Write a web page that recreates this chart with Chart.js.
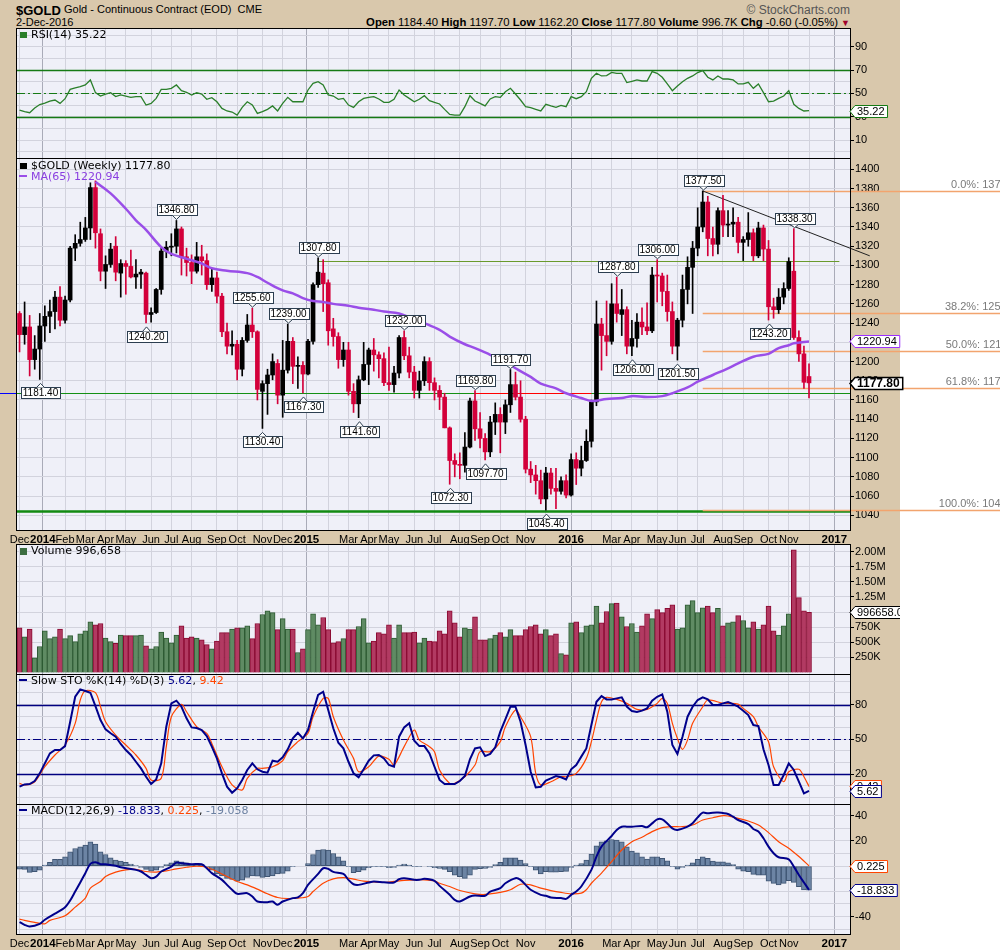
<!DOCTYPE html>
<html>
<head>
<meta charset="utf-8">
<title>$GOLD weekly</title>
<script src="https://cdn.jsdelivr.net/npm/chart.js@4.4.1/dist/chart.umd.min.js"></script>
<style>
  html, body { margin: 0; padding: 0; background: #fff; }
  body { width: 1000px; height: 950px; position: relative; overflow: hidden; font-family: "Liberation Sans", Arial, sans-serif; }
  #frame { position: absolute; left: 0; top: 0; width: 900px; height: 950px; background: #d9c8ac; }
  canvas { position: absolute; left: 0; }
  .txt { position: absolute; white-space: nowrap; color: #000; line-height: 1; }
  .lg { font-family: "DejaVu Sans", Verdana, sans-serif; font-size: 11px; }
  .ic { display: inline-block; width: 8px; height: 2px; vertical-align: middle; margin-right: 4px; position: relative; top: -1px; }
</style>
</head>
<body>
<div id="frame"></div>
<canvas id="rsiChart" width="900" height="130" style="top:28px"></canvas>
<canvas id="priceChart" width="1000" height="386" style="top:158px"></canvas>
<canvas id="volChart" width="900" height="130" style="top:544px"></canvas>
<canvas id="stoChart" width="900" height="130" style="top:674px"></canvas>
<canvas id="macdChart" width="900" height="146" style="top:804px"></canvas>

<div class="txt" style="left:16px;top:4px;font-size:13px;font-weight:bold">$GOLD</div>
<div class="txt" style="left:64px;top:4px;font-size:11px">Gold - Continuous Contract (EOD) &nbsp;CME</div>
<div class="txt" style="left:16px;top:17px;font-size:11px">2-Dec-2016</div>
<div class="txt" style="right:150px;top:4px;font-size:12px;color:#555">&copy; StockCharts.com</div>
<div class="txt" style="right:150px;top:17px;font-size:11.3px"><b>Open</b> 1184.40 <b>High</b> 1197.70 <b>Low</b> 1162.20 <b>Close</b> 1177.80 <b>Volume</b> 996.7K <b>Chg</b> -0.60 (-0.05%) <span style="color:#a0002a;font-size:9px">&#9660;</span></div>

<div class="txt lg" style="left:20px;top:29px"><span class="ic" style="background:#2a7f2a;height:6px;width:7px;top:0"></span>RSI(14) 35.22</div>
<div class="txt lg" style="left:20px;top:160px"><span class="ic" style="background:#000;height:6px;width:7px;top:0"></span>$GOLD (Weekly) 1177.80</div>
<div class="txt lg" style="left:19px;top:171px;color:#8a3ee0"><span class="ic" style="background:#9a4ee8"></span>MA(65) 1220.94</div>
<div class="txt lg" style="left:20px;top:545px"><span class="ic" style="background:#3d6e42;height:7px;width:7px;top:0"></span>Volume 996,658</div>
<div class="txt lg" style="left:19px;top:675px"><span class="ic" style="background:#00008b"></span>Slow STO %K(14) %D(3) <span style="color:#00008b">5.62</span>, <span style="color:#ff4500">9.42</span></div>
<div class="txt lg" style="left:19px;top:805px"><span class="ic" style="background:#00008b"></span>MACD(12,26,9) <span style="color:#00008b">-18.833</span>, <span style="color:#ff4500">0.225</span>, <span style="color:#6a7fa0">-19.058</span></div>

<script>
// weekly bars, Dec 6 2013 .. Dec 2 2016 (bar 1 .. 157)
const opens = [1250,1228,1236,1202,1213,1237,1247,1252,1267,1243,
  1264,1318,1323,1327,1339,1381,1333,1294,1301,1320,
  1292,1302,1299,1288,1291,1292,1249,1251,1275,1315,
  1319,1320,1338,1309,1303,1294,1309,1305,1280,1287,
  1268,1231,1216,1218,1192,1222,1238,1231,1169,1177,
  1186,1198,1165,1191,1221,1195,1196,1187,1221,1280,
  1292,1282,1234,1226,1202,1212,1169,1156,1181,1197,
  1212,1207,1203,1178,1176,1188,1225,1206,1189,1170,
  1180,1200,1178,1170,1163,1131,1097,1093,1092,1111,
  1159,1130,1120,1106,1137,1145,1137,1155,1176,1163,
  1140,1088,1082,1076,1057,1084,1068,1065,1076,1061,
  1098,1089,1097,1117,1158,1239,1227,1221,1260,1249,
  1254,1216,1224,1241,1236,1232,1290,1289,1273,1252,
  1216,1243,1275,1298,1318,1340,1366,1328,1322,1357,
  1342,1343,1345,1324,1327,1334,1310,1339,1317,1257,
  1254,1267,1276,1294,1225,1208,1184.4];
const highs = [1252,1262,1248,1227,1250,1258,1264,1273,1278,1268,
  1320,1332,1345,1350,1386,1388,1338,1310,1323,1330,
  1306,1305,1316,1306,1296,1293,1256,1276,1318,1325,
  1333,1346.8,1340,1318,1311,1324,1321,1312,1296,1293,
  1271,1240,1232,1222,1225,1249,1255.6,1232,1180,1192,
  1208,1202,1222,1239,1225,1205,1200,1223,1282,1307.8,
  1306,1285,1245,1230,1220,1220,1177,1185,1220,1214,
  1224,1210,1209,1215,1195,1227,1232,1215,1195,1190,
  1205,1204,1183,1175,1167,1132,1104,1105,1126,1162,
  1169.8,1147,1125,1143,1157,1152,1160,1191.7,1189,1180,
  1143,1096,1092,1087,1090,1089,1089,1080,1082,1104,
  1105,1112,1129,1160,1263,1245,1263,1281,1287.8,1275,
  1257,1243,1250,1256,1261,1298,1306,1292,1290,1262,
  1245,1290,1309,1325,1360,1377.5,1372,1340,1360,1373,
  1357,1360,1350,1330,1355,1338,1345,1342,1326,1266,
  1276,1282,1308,1338.3,1232,1216,1197.7];
const lows = [1210,1218,1185,1192,1181.4,1221,1230,1234,1237,1240,
  1262,1305,1320,1325,1327,1318,1284,1276,1298,1284,
  1267,1270,1287,1276,1276,1240.2,1241,1250,1270,1308,
  1310,1313,1290,1289,1281,1292,1290,1275,1273,1261,
  1226,1208,1207,1181,1185,1220,1225,1160,1130.4,1145,
  1181,1156,1142,1188,1177,1172,1167.3,1186,1218,1277,
  1252,1217,1216,1193,1195,1165,1147,1141.6,1180,1176,
  1190,1183,1175,1170,1168,1183,1202,1183,1162,1162,
  1175,1170,1160,1150,1131,1072.3,1080,1078,1085,1110,
  1118,1110,1097.7,1101,1124,1105,1125,1147,1160,1137,
  1084,1074,1062,1052,1045.4,1062,1047,1062,1058,1060,
  1072,1081,1096,1111,1154,1191,1206,1218,1241,1227,
  1208,1206,1215,1228,1228,1230,1262,1258,1242,1208,
  1201.5,1236,1260,1250,1310,1335,1310,1310,1312,1330,
  1330,1330,1313,1305,1320,1305,1308,1305,1243.2,1245,
  1250,1260,1274,1223,1200,1172,1162.2];
const closes = [1228,1236,1202,1213,1237,1247,1252,1267,1243,1264,
  1318,1323,1327,1339,1381,1334,1294,1301,1317,1293,
  1302,1299,1288,1291,1293,1249,1251,1275,1315,1319,
  1320,1338,1309,1303,1294,1309,1305,1280,1287,1268,
  1231,1216,1218,1192,1222,1238,1231,1171,1177,1186,
  1200,1165,1191,1221,1195,1196,1187,1221,1280,1293,
  1281,1232,1226,1202,1212,1169,1156,1181,1197,1212,
  1207,1203,1178,1176,1188,1225,1206,1189,1170,1180,
  1200,1178,1170,1163,1131,1097,1093,1092,1111,1159,
  1130,1120,1106,1137,1145,1137,1155,1176,1163,1140,
  1088,1082,1076,1057,1084,1068,1065,1076,1061,1098,
  1089,1097,1117,1158,1239,1227,1221,1260,1250,1254,
  1216,1224,1241,1236,1232,1290,1289,1273,1252,1216,
  1243,1275,1298,1318,1340,1366,1328,1322,1357,1342,
  1343,1345,1324,1327,1334,1310,1339,1317,1257,1254,
  1267,1276,1304,1225,1208,1178.4,1177.8];
// volume in thousands
const volumes = [740,590,720,240,430,690,560,590,720,560,
  610,510,640,690,840,790,810,570,510,480,
  620,610,610,610,620,440,390,430,670,570,
  490,620,770,570,590,570,540,460,390,520,
  660,660,720,740,740,770,560,810,960,1020,
  990,710,890,720,720,330,390,710,970,790,
  910,710,490,510,560,710,710,760,890,490,
  520,660,640,790,570,790,660,660,670,490,
  570,520,510,690,640,1020,820,590,740,720,
  920,540,540,560,620,660,590,710,610,610,
  710,760,790,640,710,610,640,310,290,820,
  840,660,770,790,1100,820,1010,1140,1150,920,
  760,810,670,770,970,890,1040,990,1060,1120,
  720,740,1120,1190,990,1070,1100,990,1060,770,
  820,840,940,860,740,840,720,790,1100,690,
  620,770,970,2030,1240,1020,996.658];
const rsi = [35.7,34.3,33.4,37.4,40.4,41.6,43.4,44.3,41.4,45.4,
  53.4,54.6,55.7,57.2,61.5,50.6,47.7,49.4,50.6,47.2,
  48.6,47.7,46.6,47.2,47.2,40.0,41.4,45.7,53.4,53.4,
  54.3,57.2,52.3,50.9,48.6,50.6,49.4,44.9,46.3,42.8,
  37.1,34.9,34.0,31.4,38.0,42.8,40.0,32.8,34.3,36.3,
  39.2,34.9,41.4,46.6,42.8,42.8,42.8,52.9,58.6,60.0,
  57.2,48.6,47.7,44.9,45.7,40.0,38.0,42.8,45.7,46.6,
  47.2,45.2,42.3,42.3,44.9,52.9,48.6,45.7,42.8,44.9,
  48.0,43.7,42.3,40.9,36.3,31.9,31.4,31.4,38.6,48.0,
  43.4,41.4,39.2,45.2,47.2,46.6,51.4,54.3,49.4,44.3,
  38.6,37.7,36.3,34.9,40.6,39.2,38.0,39.7,38.6,47.2,
  45.4,47.2,51.4,62.9,67.2,64.9,65.2,68.0,67.2,67.2,
  59.2,60.3,61.5,60.6,60.6,68.6,67.2,63.8,58.1,52.3,
  56.3,60.0,62.9,64.9,67.8,69.5,63.8,61.5,64.9,62.3,
  62.3,61.5,58.1,58.1,59.5,54.3,58.1,50.6,42.8,43.4,
  45.7,47.7,52.3,40.6,37.1,34.9,35.22];
const stoK = [9.2,11.2,11.5,14.1,20.7,29.3,37.9,40.8,40.8,44.2,
  65.0,86.7,93.1,91.6,90.2,78.7,66.6,58.6,55.2,52.3,
  46.0,40.8,36.5,30.7,25.0,17.8,11.5,15.5,29.3,60.9,
  81.0,83.3,78.1,68.1,60.3,59.7,58.0,52.9,43.7,33.6,
  20.7,9.2,4.0,7.8,15.0,23.6,29.3,24.2,22.1,21.3,
  31.6,30.7,34.5,41.4,50.8,55.7,50.8,58.0,73.8,88.2,
  91.0,75.2,59.5,47.1,42.2,30.7,20.7,17.3,24.2,31.6,
  36.2,36.5,33.6,27.9,26.4,52.3,60.3,63.8,48.8,44.2,
  44.2,37.9,26.4,15.0,11.5,11.5,11.5,14.1,18.4,32.8,
  42.2,43.1,35.6,37.4,43.1,56.6,67.2,78.1,78.1,65.2,
  45.1,22.1,8.6,9.2,14.4,16.4,18.4,17.3,15.5,24.2,
  27.9,35.1,42.2,62.3,82.4,87.3,84.4,84.4,85.3,86.2,
  78.1,74.4,73.5,74.7,76.7,83.3,86.7,88.7,73.8,45.1,
  37.4,52.3,69.5,78.1,83.9,86.2,84.4,79.6,79.6,81.0,
  82.1,80.4,78.1,74.7,70.9,62.3,61.5,41.4,27.9,10.7,
  10.7,19.3,29.3,23.6,13.5,3.5,5.62];
const stoDBars = [1,2,4,6,8,10,12,13,14,16,17,18,20,22,24,26,27,29,30,31,
  33,34,36,38,39,41,43,45,46,48,49,51,53,54,56,58,59,61,62,63,
  65,67,68,70,72,74,75,77,79,80,82,83,84,86,87,89,91,92,94,96,
  97,99,100,102,103,104,106,108,109,111,113,114,115,116,117,119,121,123,125,127,
  128,129,130,131,132,133,134,136,137,140,141,143,144,146,147,149,150,152,153,155,156,157];
const stoD = [12.1,10.7,13.5,26.4,36.5,45.1,63.8,83.9,91.9,90.2,78.1,65.2,53.7,45.1,36.5,25.0,15.0,16.4,43.7,69.5,
  80.1,73.8,60.9,55.2,46.5,26.4,10.7,6.4,16.4,25.0,25.0,26.4,31.6,39.4,48.0,55.2,69.5,85.3,85.3,69.5,
  49.4,33.6,22.1,26.4,35.6,32.8,27.9,43.7,58.0,49.4,43.7,39.4,23.6,12.1,12.1,17.8,27.9,39.4,39.4,48.0,
  60.9,75.2,69.5,52.3,20.7,10.7,13.5,17.8,17.8,20.7,33.6,48.0,66.6,82.4,86.2,84.4,81.0,75.8,75.8,81.0,
  85.3,81.0,63.8,50.8,41.4,49.4,63.8,78.1,83.9,81.0,81.0,80.4,76.7,69.5,60.9,48.0,26.4,13.5,22.1,24.2,17.8,9.42];
const macdBars = [1,2,3,5,6,8,10,11,12,13,14,15,16,17,18,20,21,24,25,26,
  27,28,29,31,32,33,35,37,38,39,41,42,43,44,46,47,48,50,51,52,
  53,55,56,57,58,60,61,62,63,65,66,67,68,70,71,73,75,76,77,79,
  80,81,83,84,86,87,88,90,91,93,94,96,97,99,100,101,102,104,105,106,
  108,109,110,111,112,114,115,116,118,119,120,121,122,124,125,126,127,128,129,130,
  131,133,134,135,136,137,138,139,141,142,143,145,146,147,148,149,150,151,153,154,155,156,157];
const macd = [-44.4,-46.6,-47.9,-45.8,-42.6,-37.8,-32.6,-27.3,-20.2,-13.0,-5.6,1.8,3.1,1.5,1.5,0.2,-0.9,-3.0,-4.3,-7.0,
  -9.6,-8.3,-4.3,-0.4,2.8,2.3,1.5,1.5,-1.7,-5.6,-10.9,-14.9,-18.8,-22.0,-21.5,-24.1,-28.1,-28.6,-28.1,-30.7,
  -28.1,-25.4,-24.9,-21.5,-14.9,-6.2,-1.7,-2.2,-4.6,-6.2,-10.9,-14.4,-14.9,-13.0,-12.2,-12.8,-13.0,-10.4,-9.6,-10.9,
  -10.9,-10.1,-11.7,-15.7,-22.8,-26.8,-28.1,-24.1,-23.3,-23.6,-20.2,-17.5,-13.6,-9.6,-10.9,-14.9,-18.8,-22.8,-23.6,-24.9,
  -25.4,-26.0,-22.8,-20.2,-16.2,-3.0,7.6,15.5,23.9,28.7,31.3,31.3,31.3,31.8,30.8,33.9,37.1,37.1,33.9,30.0,
  28.7,31.3,34.0,38.7,42.4,41.9,42.4,42.5,41.4,39.2,36.6,33.4,29.5,27.4,22.1,15.5,10.2,7.0,5.4,-0.4,-7.0,-13.0,-18.833];
const signalBars = [1,2,4,6,7,10,12,14,15,17,18,20,22,24,26,28,30,32,34,36,
  38,40,42,44,46,48,50,52,54,56,58,59,61,63,65,67,69,71,73,75,
  77,79,81,83,84,86,88,91,93,96,98,100,102,104,106,108,110,112,113,114,
  116,118,120,122,124,126,128,130,132,134,136,138,140,141,143,145,147,149,151,153,155,157];
const signal = [-42.1,-43.1,-44.7,-45.8,-43.1,-39.4,-32.6,-25.4,-17.5,-12.2,-8.3,-4.8,-3.0,-2.5,-4.3,-4.8,-3.8,-2.2,-0.9,-0.1,
  -0.9,-4.3,-8.3,-12.2,-14.9,-18.3,-22.0,-24.9,-25.7,-25.4,-24.1,-20.2,-13.6,-10.1,-9.1,-10.4,-12.0,-12.5,-13.0,-12.2,
  -11.4,-10.9,-10.9,-11.7,-13.6,-16.2,-19.4,-22.0,-22.5,-20.9,-18.8,-14.4,-14.9,-17.5,-19.4,-20.9,-22.0,-21.5,-18.8,-13.6,
  -5.6,3.6,12.8,19.4,22.9,27.4,30.5,31.3,31.3,32.6,36.6,38.4,40.0,39.8,37.9,35.8,32.6,26.6,19.4,14.2,7.6,0.225];
const histogram = [-2.4,-2.6,-5.0,-4.5,-3.2,0.8,2.9,5.3,5.3,7.4,
  11.4,14.0,15.3,16.6,19.3,17.4,11.4,9.2,6.6,4.8,
  4.0,2.9,1.6,0.3,-1.1,-2.6,-4.0,-3.2,-1.1,1.3,
  2.6,4.2,3.4,2.6,1.3,1.3,1.3,-0.5,-3.2,-6.3,
  -7.7,-9.8,-10.6,-11.9,-11.1,-9.0,-7.7,-7.9,-9.0,-8.4,
  -7.7,-6.3,-5.8,-4.0,-0.5,0.0,0.0,2.1,9.2,12.7,
  13.2,12.7,10.0,7.4,4.2,-0.5,-5.3,-4.5,-3.2,-1.3,
  -0.5,-0.5,-0.5,-1.3,-1.1,0.8,1.6,0.8,-0.5,-0.5,
  0.0,-0.5,-1.3,-1.8,-2.6,-4.5,-7.1,-8.4,-9.8,-7.1,
  -2.6,-2.1,-1.8,-1.1,1.3,2.9,6.6,6.6,6.6,4.8,
  2.1,-0.5,-3.2,-6.3,-4.5,-4.8,-4.8,-4.5,-4.2,-1.1,
  0.8,2.1,4.8,9.5,16.1,19.3,20.1,21.1,20.6,19.3,
  15.3,11.9,10.6,7.4,5.5,7.4,7.4,6.1,4.2,-0.5,
  -2.4,-1.1,0.8,2.6,5.3,7.4,6.1,4.0,3.4,3.4,
  2.6,1.3,-2.4,-4.0,-4.5,-6.6,-7.1,-7.1,-11.9,-13.7,
  -15.0,-13.7,-11.6,-12.9,-16.4,-19.0,-19.058];
const maBars = [16,19,22,24,26,29,31,34,37,39,42,46,48,50,53,55,57,59,61,63,
  66,68,71,73,76,78,81,84,86,89,91,94,97,99,102,104,107,109,112,114,
  117,120,122,125,128,130,133,135,138,141,143,146,149,151,153,154,157];
const ma65 = [1387,1375,1359,1347,1337,1319,1312,1307,1302,1297,1294.5,1292,1288,1282,1274,1271,1266,1263,1262,1260,
  1258,1256,1254,1252,1250,1246,1240,1233,1226,1218,1214,1207,1200,1193,1184,1177,1172,1167,1162,1159,
  1161,1162,1164,1163,1164,1167,1173,1179,1186,1193,1198,1205,1208,1214,1217,1219,1220.94];

// annotated highs / lows
const peakBars = [5,26,32,47,49,54,57,60,68,77,86,91,93,98,105,119,122,127,131,136,149,154];
const peakValues = [1181.40,1240.20,1346.80,1255.60,1130.40,1239.00,1167.30,1307.80,1141.60,1232.00,1072.30,
  1169.80,1097.70,1191.70,1045.40,1287.80,1206.00,1306.00,1201.50,1377.50,1243.20,1338.30];
const peakAbove = [false,false,true,true,false,true,false,true,false,true,false,
  true,false,true,false,true,false,true,false,true,false,true];

// drawn levels
const supportLevel = 1167.3;
const resistLevel = 1305;
const baseLevel = 1044;
const fibHigh = 1377.5;
const fibLow = 1045.4;
const fibRatios = [0, 0.382, 0.5, 0.618, 1];
const trendBars = [136, 169];
const trendValues = [1377.5, 1310];

// x axis: month ticks by bar number
const monthBars = [1,5.6,10,14,18,22,27,31,35,40,44,49,53,57.7,62,66,70,74,79,83,88,92,96,101,105,110,114,118,122,127,131,135,140,144,149,153,157,162];
const monthLabels = ['Dec','2014','Feb','Mar','Apr','May','Jun','Jul','Aug','Sep','Oct','Nov','Dec','2015','','Mar','Apr','May','Jun','Jul',
  'Aug','Sep','Oct','Nov','','2016','','Mar','Apr','May','Jun','Jul','Aug','Sep','Oct','Nov','','2017'];

const priceTicks = [1040,1060,1080,1100,1120,1140,1160,1180,1200,1220,1240,1260,1280,1300,1320,1340,1360,1380,1400];
const rsiTicks = [0,10,20,30,40,50,60,70,80,90,100];
const volTicks = [250,500,750,1000,1250,1500,1750,2000];
const stoTicks = [0,10,20,30,40,50,60,70,80,90,100];
const macdTicks = [-50,-40,-30,-20,-10,0,10,20,30,40];

const FONT = '"Liberation Sans", Arial, sans-serif';
const X_MIN = 0.5;
const X_MAX = 165.1;
const RED = '#d3003a';

const isYear = (i) => /^\d{4}$/.test(monthLabels[i] || '');
const barNo = closes.map((_, i) => i + 1);
const upWeek = closes.map((c, i) => (i === 0 ? c >= opens[0] : c >= closes[i - 1]));

function xAxis(show, h) {
  return {
    type: 'linear', min: X_MIN, max: X_MAX, offset: false,
    afterBuildTicks: (s) => { s.ticks = monthBars.map((v) => ({ value: v })); },
    afterFit: (s) => { s.height = h; s.paddingLeft = 0; s.paddingRight = 0; },
    border: { display: false },
    grid: { offset: false, drawTicks: false, color: (c) => (isYear(c.index) ? '#a9abb8' : '#d2d3dd') },
    ticks: {
      display: show, autoSkip: false, maxRotation: 0, minRotation: 0, padding: 3, color: '#000',
      callback: (v, i) => monthLabels[i],
      font: (c) => ({ family: FONT, size: isYear(c.index) ? 11.5 : 11, weight: isYear(c.index) ? 'bold' : 'normal' }),
    },
  };
}

function yAxis(min, max, values, fmt, width) {
  return {
    position: 'right', min, max,
    afterBuildTicks: (s) => { s.ticks = values.map((v) => ({ value: v })); },
    afterFit: (s) => { s.width = width; s.paddingTop = 0; s.paddingBottom = 0; },
    border: { display: false },
    grid: { color: '#d2d3dd', tickLength: 4, tickColor: (c) => (c.tick && fmt(c.tick.value) ? '#000' : 'rgba(0,0,0,0)') },
    ticks: { autoSkip: false, padding: 1, color: '#000', font: { family: FONT, size: 11 }, callback: (v) => fmt(v) },
  };
}

function drawTag(ctx, x, y, text, border, bold) {
  ctx.save();
  ctx.font = (bold ? 'bold 12px ' : '11px ') + FONT;
  const w = ctx.measureText(text).width + 5;
  const h = 12;
  y = Math.round(y) + 0.5;
  ctx.beginPath();
  ctx.moveTo(x, y);
  ctx.lineTo(x + 5, y - h / 2);
  ctx.lineTo(x + 5 + w, y - h / 2);
  ctx.lineTo(x + 5 + w, y + h / 2);
  ctx.lineTo(x + 5, y + h / 2);
  ctx.closePath();
  ctx.fillStyle = '#fff';
  ctx.fill();
  ctx.lineWidth = bold ? 1.5 : 1;
  ctx.strokeStyle = border;
  ctx.stroke();
  ctx.fillStyle = '#000';
  ctx.textBaseline = 'middle';
  ctx.textAlign = 'left';
  ctx.fillText(text, x + 7, y + 0.5);
  ctx.restore();
}

// panel background + frame + value tags
const panel = {
  id: 'panel',
  beforeDraw(chart) {
    const { ctx, chartArea: a } = chart;
    ctx.save();
    ctx.fillStyle = '#eff0f8';
    ctx.fillRect(a.left, a.top, a.right - a.left, a.bottom - a.top);
    ctx.restore();
  },
  afterDraw(chart, args, opts) {
    const { ctx, chartArea: a, scales } = chart;
    ctx.save();
    ctx.strokeStyle = '#000';
    ctx.lineWidth = 1;
    ctx.strokeRect(a.left - 0.5, a.top + 0.5, a.right - a.left + 1, a.bottom - a.top);
    ctx.restore();
    (opts.tags || []).forEach((t) => drawTag(ctx, a.right, scales.y.getPixelForValue(t.value), t.text, t.border, t.bold));
  },
};

// horizontal reference lines inside a panel
const refLines = {
  id: 'refLines',
  beforeDatasetsDraw(chart, args, opts) {
    const { ctx, chartArea: a, scales: { y } } = chart;
    (opts.lines || []).forEach((l) => {
      const py = Math.round(y.getPixelForValue(l.value)) + 0.5;
      ctx.save();
      ctx.strokeStyle = l.color;
      ctx.lineWidth = l.width || 1;
      ctx.setLineDash(l.dash || []);
      ctx.beginPath();
      ctx.moveTo(a.left, py);
      ctx.lineTo(a.right, py);
      ctx.stroke();
      ctx.restore();
    });
  },
};

const priceLines = {
  id: 'priceLines',
  beforeDatasetsDraw(chart) {
    const { ctx, chartArea: a, scales: { x, y } } = chart;
    const hline = (v, x0, x1, color, w) => {
      const py = Math.round(y.getPixelForValue(v)) + 0.5;
      ctx.save();
      ctx.strokeStyle = color;
      ctx.lineWidth = w;
      ctx.beginPath();
      ctx.moveTo(x0, py);
      ctx.lineTo(x1, py);
      ctx.stroke();
      ctx.restore();
      return py;
    };
    hline(supportLevel, a.left, a.right, '#139013', 1);
    hline(supportLevel, x.getPixelForValue(91), x.getPixelForValue(114), '#ff0000', 1);
    hline(supportLevel, 0, a.left, '#0000ff', 1);
    hline(resistLevel, x.getPixelForValue(60), x.getPixelForValue(163), '#6a9a2c', 1);
    hline(baseLevel, a.left, a.right, '#118a11', 2.5);
    const fx = x.getPixelForValue(trendBars[0]);
    fibRatios.forEach((r) => {
      const v = fibHigh - (fibHigh - fibLow) * r;
      const py = hline(v, fx, chart.width, '#f2a46e', 1.3);
      ctx.save();
      ctx.font = '11px ' + FONT;
      ctx.fillStyle = '#7a7a7a';
      ctx.textAlign = 'right';
      ctx.textBaseline = 'bottom';
      ctx.fillText((r * 100).toFixed(1) + '%: ' + v.toFixed(2), 1022, py - 1);
      ctx.restore();
    });
    ctx.save();
    ctx.strokeStyle = '#222';
    ctx.lineWidth = 1;
    ctx.beginPath();
    ctx.moveTo(x.getPixelForValue(trendBars[0]), y.getPixelForValue(trendValues[0]));
    ctx.lineTo(x.getPixelForValue(trendBars[1]), y.getPixelForValue(trendValues[1]));
    ctx.stroke();
    ctx.restore();
  },
  afterDatasetsDraw(chart) {
    const { ctx, scales: { x, y } } = chart;
    ctx.save();
    ctx.font = '10px ' + FONT;
    ctx.textAlign = 'center';
    ctx.textBaseline = 'middle';
    peakBars.forEach((b, i) => {
      const text = peakValues[i].toFixed(2);
      const w = Math.round(ctx.measureText(text).width) + 4;
      const h = 11;
      const cx = Math.round(x.getPixelForValue(b)) + 0.5;
      const py = y.getPixelForValue(peakValues[i]);
      let top, tip, base;
      if (peakAbove[i]) { tip = py - 1; base = Math.round(py - 5) + 0.5; top = base - h; }
      else { tip = py + 4; base = Math.round(py + 8) + 0.5; top = base; }
      const left = Math.round(cx - w / 2) + 0.5;
      ctx.fillStyle = '#fff';
      ctx.strokeStyle = '#2c3e50';
      ctx.lineWidth = 1;
      ctx.fillRect(left, top, w, h);
      ctx.strokeRect(left, top, w, h);
      ctx.beginPath();
      ctx.moveTo(cx - 4, base);
      ctx.lineTo(cx, tip);
      ctx.lineTo(cx + 4, base);
      ctx.fill();
      ctx.stroke();
      ctx.fillStyle = '#000';
      ctx.fillText(text, cx, top + h / 2 + 0.5);
    });
    ctx.restore();
  },
};

function options(yScale, showX, xH, pluginOpts) {
  return {
    responsive: false,
    animation: false,
    events: [],
    layout: { padding: { left: 17, right: 0, top: 0, bottom: 0 } },
    plugins: Object.assign({ legend: { display: false }, tooltip: { enabled: false } }, pluginOpts),
    scales: { x: xAxis(showX, xH), y: yScale },
  };
}

const candleColors = upWeek.map((u) => (u ? '#000000' : RED));

// price panel
new Chart(document.getElementById('priceChart'), {
  type: 'bar',
  data: {
    datasets: [
      {
        type: 'line',
        data: maBars.map((b, i) => ({ x: b, y: ma65[i] })),
        borderColor: '#9a4ee8',
        borderWidth: 2.5,
        pointRadius: 0,
        tension: 0.35,
      },
      {
        data: barNo.map((b, i) => ({ x: b, y: [opens[i], closes[i]] })),
        backgroundColor: candleColors,
        barThickness: 4,
        minBarLength: 1,
        grouped: false,
      },
      {
        data: barNo.map((b, i) => ({ x: b, y: [lows[i], highs[i]] })),
        backgroundColor: candleColors,
        barThickness: 1,
        grouped: false,
      },
    ],
  },
  options: options(yAxis(1024.7, 1411.8, priceTicks, (v) => String(v), 150), true, 14, {
    panel: { tags: [
      { value: 1220.94, text: '1220.94', border: '#9b30ff' },
      { value: 1177.80, text: '1177.80', border: '#000', bold: true },
    ] },
  }),
  plugins: [panel, priceLines],
});

// RSI
new Chart(document.getElementById('rsiChart'), {
  type: 'line',
  data: {
    datasets: [{
      data: rsi.map((v, i) => ({ x: i + 1, y: v })),
      borderColor: '#2a7f2a',
      borderWidth: 1.3,
      pointRadius: 0,
      tension: 0,
    }],
  },
  options: options(yAxis(-5.4, 106, rsiTicks, (v) => (v % 20 === 10 ? String(v) : ''), 50), false, 0, {
    refLines: { lines: [
      { value: 70, color: '#157a15', width: 1.3 },
      { value: 30, color: '#157a15', width: 1.3 },
      { value: 50, color: '#157a15', width: 1, dash: [8, 3, 2, 3] },
    ] },
    panel: { tags: [{ value: 35.22, text: '35.22', border: '#157a15' }] },
  }),
  plugins: [panel, refLines],
});

// Volume
new Chart(document.getElementById('volChart'), {
  type: 'bar',
  data: {
    datasets: [{
      data: volumes.map((v, i) => ({ x: i + 1, y: v })),
      backgroundColor: upWeek.map((u) => (u ? '#5f8b63' : '#b23a62')),
      borderColor: upWeek.map((u) => (u ? '#2d5a32' : '#8a0a32')),
      borderWidth: 1,
      barThickness: 5,
      grouped: false,
    }],
  },
  options: options(yAxis(-26.5, 2128, volTicks, (v) => (v >= 1000 ? (v / 1000).toFixed(2) + 'M' : v + 'K'), 50), false, 0, {
    panel: { tags: [{ value: 996.658, text: '996658.00', border: '#000' }] },
  }),
  plugins: [panel],
});

// Slow stochastic
new Chart(document.getElementById('stoChart'), {
  type: 'line',
  data: {
    datasets: [
      {
        data: stoK.map((v, i) => ({ x: i + 1, y: v })),
        borderColor: '#00008b',
        borderWidth: 2,
        pointRadius: 0,
      },
      {
        data: stoDBars.map((b, i) => ({ x: b, y: stoD[i] })),
        borderColor: '#ff4500',
        borderWidth: 1.2,
        pointRadius: 0,
        tension: 0.3,
      },
    ],
  },
  options: options(yAxis(-5.7, 106.3, stoTicks, (v) => ([20, 50, 80].includes(v) ? String(v) : ''), 50), false, 0, {
    refLines: { lines: [
      { value: 80, color: '#000080', width: 1.3 },
      { value: 20, color: '#000080', width: 1.3 },
      { value: 50, color: '#000080', width: 1, dash: [8, 3, 2, 3] },
    ] },
    panel: { tags: [
      { value: 9.42, text: '9.42', border: '#ff4500' },
      { value: 5.62, text: '5.62', border: '#00008b' },
    ] },
  }),
  plugins: [panel, refLines],
});

// MACD
new Chart(document.getElementById('macdChart'), {
  type: 'bar',
  data: {
    datasets: [
      {
        type: 'line',
        data: macdBars.map((b, i) => ({ x: b, y: macd[i] })),
        borderColor: '#00008b',
        borderWidth: 2,
        pointRadius: 0,
        tension: 0.3,
      },
      {
        type: 'line',
        data: signalBars.map((b, i) => ({ x: b, y: signal[i] })),
        borderColor: '#ff4500',
        borderWidth: 1.2,
        pointRadius: 0,
        tension: 0.3,
      },
      {
        data: histogram.map((v, i) => ({ x: i + 1, y: v })),
        backgroundColor: '#6c84a4',
        borderColor: '#3f5573',
        borderWidth: 1,
        borderSkipped: false,
        barThickness: 5,
        grouped: false,
      },
    ],
  },
  options: options(yAxis(-53.9, 49.3, macdTicks, (v) => (v % 20 === 0 ? String(v) : ''), 50), true, 16, {
    panel: { tags: [
      { value: 0.225, text: '0.225', border: '#ff4500' },
      { value: -18.833, text: '-18.833', border: '#00008b' },
    ] },
  }),
  plugins: [panel],
});
</script>
</body>
</html>
